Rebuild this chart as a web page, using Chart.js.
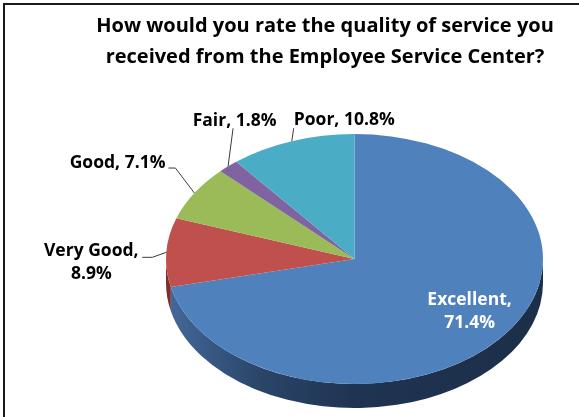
<!DOCTYPE html>
<html>
<head>
<meta charset="utf-8">
<title>Employee Service Center rating</title>
<script src="https://cdn.jsdelivr.net/npm/chart.js@4.4.0/dist/chart.umd.min.js"></script>
<style>
  html, body { margin: 0; padding: 0; background: #fff; }
  #wrap { width: 579px; height: 417px; }
</style>
</head>
<body>
<div id="wrap"><canvas id="pieChart" width="579" height="417"></canvas></div>
<script>
const ratings = ["Excellent", "Very Good", "Good", "Fair", "Poor"];
const percents = [71.4, 8.9, 7.1, 1.8, 10.8];
const titleLines = [
  "How would you rate the quality of service you",
  "received from the Employee Service Center?"
];

const sliceColors = ["#4f81bd", "#c0504d", "#9bbb59", "#8064a2", "#4bacc6"];
const wallColors = ["#22395a", "#7b302e", "#627a33", "#4f3c68", "#2b7387"];

// flattened pie: ellipse centre, radii and wall height on the page
const PIE = { cx: 354.5, cy: 259, rx: 188.5, ry: 125, depth: 24 };
const FONT = "'Open Sans', Lato, sans-serif";

// where each slice label goes, relative to the rim point at the slice middle
const labelSpots = [
  { inside: 0.78, shift: -8, align: "center", wrap: true, color: "#ffffff" },
  { elbow: [-14, 5], tail: -10, text: [-51, -6], align: "center", wrap: true },
  { elbow: [-19, -25], tail: -7, text: [-3, -5], align: "right" },
  { elbow: [5, -38], tail: 0, text: [1.5, -7], align: "center" },
  { elbow: [2, -13], tail: 0, text: [0, -8], align: "left" }
];

function rim(angle, f) {
  return [PIE.cx + PIE.rx * f * Math.cos(angle), PIE.cy + PIE.ry * f * Math.sin(angle)];
}

function wallFill(ctx, i) {
  if (i !== 0) return wallColors[i];
  const g = ctx.createLinearGradient(PIE.cx - PIE.rx, 0, PIE.cx + PIE.rx, 0);
  g.addColorStop(0, "#44699c");
  g.addColorStop(0.25, "#2a4568");
  g.addColorStop(0.5, "#1f3452");
  g.addColorStop(1, "#1c2f49");
  return g;
}

const frame = {
  id: "frame",
  beforeDraw(chart) {
    const ctx = chart.ctx;
    ctx.save();
    ctx.strokeStyle = "#1a1a1a";
    ctx.lineWidth = 2;
    ctx.beginPath();
    ctx.moveTo(4, chart.height);
    ctx.lineTo(4, 4);
    ctx.lineTo(chart.width, 4);
    ctx.stroke();
    ctx.restore();
  }
};

// squash the round pie into an ellipse and give it a front wall
const tilt = {
  id: "tilt",
  beforeDatasetsDraw(chart) {
    const ctx = chart.ctx;
    const arcs = chart.getDatasetMeta(0).data;
    arcs.forEach((arc, i) => {
      const a0 = Math.max(arc.startAngle, 0);
      const a1 = Math.min(arc.endAngle, Math.PI);
      if (a1 <= a0) return;
      ctx.beginPath();
      ctx.ellipse(PIE.cx, PIE.cy, PIE.rx, PIE.ry, 0, a0, a1);
      ctx.ellipse(PIE.cx, PIE.cy + PIE.depth, PIE.rx, PIE.ry, 0, a1, a0, true);
      ctx.closePath();
      ctx.fillStyle = wallFill(ctx, i);
      ctx.fill();
    });
    const a = arcs[0];
    ctx.save();
    ctx.translate(PIE.cx, PIE.cy);
    ctx.scale(PIE.rx / a.outerRadius, PIE.ry / a.outerRadius);
    ctx.translate(-a.x, -a.y);
  },
  afterDatasetsDraw(chart) {
    chart.ctx.restore();
  }
};

const sliceLabels = {
  id: "sliceLabels",
  afterDraw(chart) {
    const ctx = chart.ctx;
    const lineGap = 22.5;
    ctx.save();
    ctx.font = "bold 17.5px " + FONT;
    ctx.textBaseline = "middle";
    chart.getDatasetMeta(0).data.forEach((arc, i) => {
      const spot = labelSpots[i];
      const mid = (arc.startAngle + arc.endAngle) / 2;
      const pct = percents[i].toFixed(1) + "%";
      const lines = spot.wrap ? [ratings[i] + ",", pct] : [ratings[i] + ", " + pct];
      let x, y;
      if (spot.inside) {
        [x, y] = rim(mid, spot.inside);
        y += spot.shift - lineGap * (lines.length - 1) / 2;
      } else {
        const [ex, ey] = rim(mid, 1);
        const bx = ex + spot.elbow[0], by = ey + spot.elbow[1];
        const tx = bx + spot.tail;
        ctx.strokeStyle = "#3a3a3a";
        ctx.lineWidth = 1;
        ctx.beginPath();
        ctx.moveTo(ex, ey);
        ctx.lineTo(bx, by);
        if (spot.tail) ctx.lineTo(tx, by);
        ctx.stroke();
        x = tx + spot.text[0];
        y = by + spot.text[1];
      }
      ctx.fillStyle = spot.color || "#000000";
      ctx.textAlign = spot.align;
      lines.forEach((t, k) => ctx.fillText(t, x, y + k * lineGap));
    });
    ctx.restore();
  }
};

new Chart(document.getElementById("pieChart"), {
  type: "pie",
  data: {
    labels: ratings,
    datasets: [{
      data: percents,
      backgroundColor: sliceColors,
      borderWidth: 0,
      clip: false
    }]
  },
  options: {
    responsive: false,
    animation: false,
    events: [],
    layout: { padding: { left: 71, right: 0, top: 0, bottom: 0 } },
    plugins: {
      legend: { display: false },
      tooltip: { enabled: false },
      title: {
        display: true,
        text: titleLines,
        color: "#000000",
        font: { family: FONT, size: 20, weight: "bold", lineHeight: 1.55 },
        padding: { top: 11, bottom: 10 }
      }
    }
  },
  plugins: [frame, tilt, sliceLabels]
});
</script>
</body>
</html>
